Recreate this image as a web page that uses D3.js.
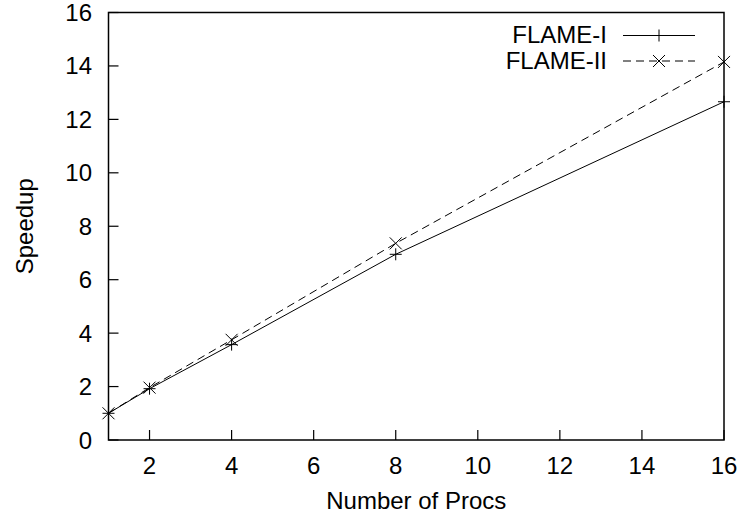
<!DOCTYPE html>
<html>
<head>
<meta charset="utf-8">
<script src="https://cdn.jsdelivr.net/npm/d3@7"></script>
<style>
body { margin: 0; background: #fff; }
text { font-family: "Liberation Sans", Arial, sans-serif; fill: #000; }
</style>
</head>
<body>
<script>
// data
var procs = [1, 2, 4, 8, 16];
var flame1 = [1, 1.92, 3.57, 6.95, 12.66];
var flame2 = [1, 1.96, 3.75, 7.36, 14.15];
var seriesNames = ["FLAME-I", "FLAME-II"];
var xTicks = [2, 4, 6, 8, 10, 12, 14, 16];
var yTicks = [0, 2, 4, 6, 8, 10, 12, 14, 16];

var width = 743, height = 516;
//plot box (note: "top" is reserved on window, so use other names)
var plotLeft = 108.5, plotRight = 724, plotTop = 12.5, plotBottom = 440;
var fontSize = "24px";

var svg = d3.select("body").append("svg")
  .attr("width", width)
  .attr("height", height);

var x = d3.scaleLinear().domain([1, 16]).range([plotLeft, plotRight]);
var y = d3.scaleLinear().domain([0, 16]).range([plotBottom, plotTop]);

//ticks (inward, left and bottom only)
svg.selectAll("line.ytick").data(yTicks).enter().append("line")
  .attr("x1", plotLeft).attr("x2", plotLeft + 10)
  .attr("y1", function(d){ return y(d); })
  .attr("y2", function(d){ return y(d); })
  .attr("stroke", "#000").attr("stroke-width", 1.2);

svg.selectAll("line.xtick").data(xTicks).enter().append("line")
  .attr("x1", function(d){ return x(d); })
  .attr("x2", function(d){ return x(d); })
  .attr("y1", plotBottom).attr("y2", plotBottom - 10)
  .attr("stroke", "#000").attr("stroke-width", 1.2);

//tick labels
svg.selectAll("text.ylab").data(yTicks).enter().append("text")
  .attr("x", 92)
  .attr("y", function(d){ return y(d) + 8.5; })
  .attr("text-anchor", "end")
  .attr("font-size", fontSize)
  .text(function(d){ return d; });

svg.selectAll("text.xlab").data(xTicks).enter().append("text")
  .attr("x", function(d){ return x(d); })
  .attr("y", 474)
  .attr("text-anchor", "middle")
  .attr("font-size", fontSize)
  .text(function(d){ return d; });

//frame
svg.append("rect")
  .attr("x", plotLeft).attr("y", plotTop)
  .attr("width", plotRight - plotLeft).attr("height", plotBottom - plotTop)
  .attr("fill", "none").attr("stroke", "#000").attr("stroke-width", 1.5);

//axis titles
svg.append("text")
  .attr("transform", "translate(33," + ((plotTop + plotBottom) / 2) + ") rotate(-90)")
  .attr("text-anchor", "middle")
  .attr("font-size", fontSize)
  .text("Speedup");

svg.append("text")
  .attr("x", (plotLeft + plotRight) / 2)
  .attr("y", 509)
  .attr("text-anchor", "middle")
  .attr("font-size", fontSize)
  .text("Number of Procs");

//markers
function plus(g, cx, cy) {
  g.append("path")
    .attr("d", "M" + (cx - 6) + "," + cy + "H" + (cx + 6) + "M" + cx + "," + (cy - 6) + "V" + (cy + 6))
    .attr("stroke", "#000").attr("stroke-width", 1).attr("fill", "none");
}
function cross(g, cx, cy) {
  g.append("path")
    .attr("d", "M" + (cx - 6) + "," + (cy - 6) + "L" + (cx + 6) + "," + (cy + 6) +
               "M" + (cx - 6) + "," + (cy + 6) + "L" + (cx + 6) + "," + (cy - 6))
    .attr("stroke", "#000").attr("stroke-width", 1).attr("fill", "none");
}

var line = d3.line()
  .x(function(d, i){ return x(procs[i]); })
  .y(function(d){ return y(d); });

var series = [
  { values: flame1, dash: null, marker: plus },
  { values: flame2, dash: "8,5", marker: cross }
];

series.forEach(function(s, k) {
  var g = svg.append("g");
  g.append("path")
    .attr("d", line(s.values))
    .attr("fill", "none")
    .attr("stroke", "#000")
    .attr("stroke-width", 1)
    .attr("stroke-dasharray", s.dash);
  s.values.forEach(function(v, i){ s.marker(g, x(procs[i]), y(v)); });

  //legend entry
  var ly = 35.5 + k * 25.5;
  svg.append("text")
    .attr("x", 607).attr("y", ly + 7.5)
    .attr("text-anchor", "end")
    .attr("font-size", fontSize)
    .text(seriesNames[k]);
  svg.append("line")
    .attr("x1", 623).attr("x2", 695)
    .attr("y1", ly).attr("y2", ly)
    .attr("stroke", "#000").attr("stroke-width", 1)
    .attr("stroke-dasharray", s.dash);
  s.marker(svg, 659, ly);
});
</script>
</body>
</html>
